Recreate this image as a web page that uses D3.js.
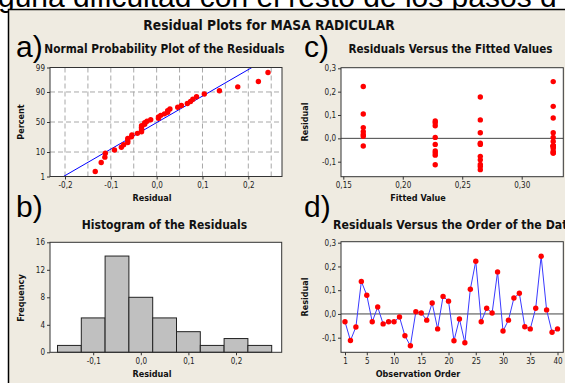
<!DOCTYPE html>
<html>
<head>
<meta charset="utf-8">
<script src="https://cdn.jsdelivr.net/npm/d3@7"></script>
<style>
body { margin: 0; background: #fff; overflow: hidden; }
svg { display: block; }
</style>
</head>
<body>
<svg id="chart" width="565" height="383"></svg>
<script>
const residuals = [-0.033, -0.112, -0.055, 0.137, 0.079, -0.033, 0.029, -0.042, -0.033, -0.033,
    -0.013, -0.092, -0.134, 0.009, 0.004, -0.026, 0.046, -0.063, 0.074, 0.054,
    -0.113, -0.021, -0.121, 0.104, 0.222, -0.033, 0.024, 0.004, 0.177, -0.072,
    -0.026, 0.067, 0.087, -0.054, -0.063, 0.024, 0.243, 0.017, -0.077, -0.063];
// fitted value for each observation (plot c)
const fitted = [0.3265, 0.2652, 0.3265, 0.3265, 0.2652, 0.1668, 0.1668, 0.3265, 0.3265, 0.3265,
    0.3265, 0.2652, 0.2652, 0.1668, 0.2273, 0.2273, 0.1668, 0.2273, 0.2273, 0.2273,
    0.2273, 0.2652, 0.2652, 0.1668, 0.1668, 0.3265, 0.2652, 0.3265, 0.2652, 0.2273,
    0.2652, 0.2273, 0.3265, 0.2273, 0.3265, 0.3265, 0.3265, 0.1668, 0.2652, 0.3265];
const order = d3.range(1, residuals.length + 1);

const probTicks = [1, 10, 50, 90, 99];
const residTicks = [-0.2, -0.1, 0.0, 0.1, 0.2];
const residGrid = [-0.2, -0.15, -0.1, -0.05, 0.0, 0.05, 0.1, 0.15, 0.2, 0.25];
const fittedTicks = [0.15, 0.20, 0.25, 0.30];
const residYTicks = [-0.1, 0.0, 0.1, 0.2, 0.3];
const histXTicks = [-0.1, 0.0, 0.1, 0.2];
const freqTicks = [0, 4, 8, 12, 16];
const histEdges = [-0.175, -0.125, -0.075, -0.025, 0.025, 0.075, 0.125, 0.175, 0.225, 0.275];
const orderTicks = [1, 5, 10, 15, 20, 25, 30, 35, 40];

const FONT = "'DejaVu Sans Condensed', 'DejaVu Sans', sans-serif";
const comma = d => d.toFixed(1).replace(".", ",");
const comma2 = d => d.toFixed(2).replace(".", ",");

// inverse normal cdf (Acklam)
function qnorm(p) {
    const a = [-39.69683028665376, 220.9460984245205, -275.9285104469687, 138.3577518672690, -30.66479806614716, 2.506628277459239];
    const b = [-54.47609879822406, 161.5858368580409, -155.6989798598866, 66.80131188771972, -13.28068155288572];
    const c = [-0.007784894002430293, -0.3223964580411365, -2.400758277161838, -2.549732539343734, 4.374664141464968, 2.938163982698783];
    const d = [0.007784695709041462, 0.3224671290700398, 2.445134137142996, 3.754408661907416];
    const tail = q => (((((c[0]*q+c[1])*q+c[2])*q+c[3])*q+c[4])*q+c[5]) / ((((d[0]*q+d[1])*q+d[2])*q+d[3])*q+1);
    if (p < 0.02425) return tail(Math.sqrt(-2 * Math.log(p)));
    if (p > 1 - 0.02425) return -tail(Math.sqrt(-2 * Math.log(1 - p)));
    const q = p - 0.5, r = q * q;
    return (((((a[0]*r+a[1])*r+a[2])*r+a[3])*r+a[4])*r+a[5])*q / (((((b[0]*r+b[1])*r+b[2])*r+b[3])*r+b[4])*r+1);
}

const svg = d3.select("#chart");

// bit of the document text above the graph
svg.append("text")
    .attr("x", -2)
    .attr("y", 7)
    .style("font", "30px 'Liberation Sans', Arial, sans-serif")
    .text("guna dificultad con el resto de los pasos d");

svg.append("rect")
    .attr("x", 8.5).attr("y", 9.5)
    .attr("width", 600).attr("height", 400)
    .attr("fill", "#efebe1")
    .attr("stroke", "#000")
    .attr("stroke-width", 1.5);

svg.append("text")
    .attr("x", 269).attr("y", 30)
    .attr("text-anchor", "middle")
    .style("font-family", FONT).style("font-weight", "bold").style("font-size", "13.7px")
    .attr("fill", "#111")
    .text("Residual Plots for MASA RADICULAR");

[["a)", 16, 57], ["b)", 16, 217], ["c)", 304, 57], ["d)", 304, 217]].forEach(([t, x, y]) => {
    svg.append("text").attr("x", x).attr("y", y)
        .style("font", "30px 'Liberation Sans', Arial, sans-serif")
        .text(t);
});

function frame(box, id) {
    svg.append("clipPath").attr("id", id)
        .append("rect")
        .attr("x", box.x0).attr("y", box.y0)
        .attr("width", box.x1 - box.x0).attr("height", box.y1 - box.y0);
    svg.append("rect")
        .attr("x", box.x0).attr("y", box.y0)
        .attr("width", box.x1 - box.x0).attr("height", box.y1 - box.y0)
        .attr("fill", "#fff");
}
function border(box) {
    svg.append("rect")
        .attr("x", box.x0).attr("y", box.y0)
        .attr("width", box.x1 - box.x0).attr("height", box.y1 - box.y0)
        .attr("fill", "none").attr("stroke", "#333").attr("stroke-width", 1);
}
function axes(box, x, y, xTicks, xFmt, yTicks, yFmt) {
    const styleAxis = g => {
        g.select(".domain").remove();
        g.selectAll("line").attr("stroke", "#333");
        g.selectAll("text").attr("fill", "#222").style("font-family", FONT).style("font-size", "8px");
    };
    svg.append("g")
        .attr("transform", `translate(0,${box.y1})`)
        .call(d3.axisBottom(x).tickValues(xTicks).tickFormat(xFmt).tickSize(3).tickPadding(3))
        .call(styleAxis);
    svg.append("g")
        .attr("transform", `translate(${box.x0},0)`)
        .call(d3.axisLeft(y).tickValues(yTicks).tickFormat(yFmt).tickSize(3).tickPadding(2))
        .call(styleAxis);
}
function title(t, x, y, size, anchor) {
    svg.append("text").attr("x", x).attr("y", y)
        .attr("text-anchor", anchor || "middle")
        .style("font-family", FONT).style("font-weight", "bold").style("font-size", size + "px")
        .attr("fill", "#111")
        .text(t);
}
function xlabel(t, x, y) {
    svg.append("text").attr("x", x).attr("y", y)
        .attr("text-anchor", "middle")
        .style("font-family", FONT).style("font-weight", "bold").style("font-size", "9px")
        .attr("fill", "#111")
        .text(t);
}
function ylabel(t, x, y) {
    svg.append("text")
        .attr("transform", `translate(${x},${y}) rotate(-90)`)
        .attr("text-anchor", "middle")
        .attr("dy", "0.35em")
        .style("font-family", FONT).style("font-weight", "bold").style("font-size", "9px")
        .attr("fill", "#111")
        .text(t);
}

// ---- a) normal probability plot
const boxA = {x0: 50, x1: 282, y0: 67.5, y1: 176.5};
const xA = d3.scaleLinear().domain([-0.2, 0.2]).range([65, 248.3]);
const yA = d3.scaleLinear().domain([qnorm(0.01), qnorm(0.99)]).range([boxA.y1, boxA.y0]);
frame(boxA, "clipA");

svg.append("g").selectAll("line")
    .data(residGrid)
    .join("line")
    .attr("x1", d => xA(d)).attr("x2", d => xA(d))
    .attr("y1", boxA.y0).attr("y2", boxA.y1)
    .attr("stroke", "#a8a8a8").attr("stroke-dasharray", "5,3");
svg.append("g").selectAll("line")
    .data(probTicks)
    .join("line")
    .attr("x1", boxA.x0).attr("x2", boxA.x1)
    .attr("y1", d => yA(qnorm(d / 100))).attr("y2", d => yA(qnorm(d / 100)))
    .attr("stroke", "#a8a8a8").attr("stroke-dasharray", "5,3");

const mean = d3.mean(residuals), sd = d3.deviation(residuals);
const zEnds = [yA.domain()[0] - 0.2, yA.domain()[1] + 0.2];
svg.append("line")
    .attr("clip-path", "url(#clipA)")
    .attr("x1", xA(mean + zEnds[0] * sd)).attr("y1", yA(zEnds[0]))
    .attr("x2", xA(mean + zEnds[1] * sd)).attr("y2", yA(zEnds[1]))
    .attr("stroke", "#0000ff").attr("stroke-width", 1);

const sorted = residuals.slice().sort(d3.ascending);
const n = sorted.length;
svg.append("g").attr("fill", "#ff0000")
    .selectAll("circle")
    .data(sorted)
    .join("circle")
    .attr("cx", d => xA(d))
    .attr("cy", (d, i) => yA(qnorm((i + 1 - 0.3) / (n + 0.4))))
    .attr("r", 2.7);
border(boxA);
axes(boxA, xA, yA, residTicks, comma, probTicks.map(p => qnorm(p / 100)), (d, i) => probTicks[i]);
title("Normal Probability Plot of the Residuals", 164.5, 53, 11.8);
xlabel("Residual", 152, 200.5);
ylabel("Percent", 20.5, 122);

// ---- c) residuals vs fitted
const boxC = {x0: 341, x1: 563.3, y0: 67.7, y1: 176.7};
const xC = d3.scaleLinear().domain([0.15, 0.30]).range([343.3, 521.7]);
const yC = d3.scaleLinear().domain([-0.1, 0.3]).range([161.7, 68.3]);
frame(boxC, "clipC");
svg.append("line")
    .attr("x1", boxC.x0).attr("x2", boxC.x1)
    .attr("y1", yC(0)).attr("y2", yC(0))
    .attr("stroke", "#444");
svg.append("g").attr("fill", "#ff0000")
    .selectAll("circle")
    .data(residuals)
    .join("circle")
    .attr("cx", (d, i) => xC(fitted[i]))
    .attr("cy", d => yC(d))
    .attr("r", 2.7);
border(boxC);
axes(boxC, xC, yC, fittedTicks, comma2, residYTicks, comma);
title("Residuals Versus the Fitted Values", 450.5, 53, 11.6);
xlabel("Fitted Value", 418, 200.5);
ylabel("Residual", 305, 122);

// ---- b) histogram
const boxB = {x0: 50, x1: 281.7, y0: 242.3, y1: 352.3};
const xB = d3.scaleLinear().domain([-0.1, 0.2]).range([93.2, 236]);
const yB = d3.scaleLinear().domain([0, 16]).range([boxB.y1, boxB.y0]);
const bins = d3.bin()
    .domain([histEdges[0], histEdges[histEdges.length - 1]])
    .thresholds(histEdges.slice(1, -1))(residuals);
frame(boxB, "clipB");
svg.append("g")
    .selectAll("rect")
    .data(bins)
    .join("rect")
    .attr("x", d => xB(d.x0))
    .attr("width", d => xB(d.x1) - xB(d.x0))
    .attr("y", d => yB(d.length))
    .attr("height", d => yB(0) - yB(d.length))
    .attr("fill", "#c0c0c0")
    .attr("stroke", "#222").attr("stroke-width", 1);
border(boxB);
axes(boxB, xB, yB, histXTicks, comma, freqTicks, d => d);
title("Histogram of the Residuals", 164.5, 229, 12);
xlabel("Residual", 152, 376.5);
ylabel("Frequency", 20.5, 298);

// ---- d) residuals vs order
const boxD = {x0: 341, x1: 563.3, y0: 241.7, y1: 352.3};
const xD = d3.scaleLinear().domain([1, 40]).range([345, 557.5]);
const yD = d3.scaleLinear().domain([-0.1, 0.3]).range([337.7, 242.7]);
frame(boxD, "clipD");
svg.append("line")
    .attr("x1", boxD.x0).attr("x2", boxD.x1)
    .attr("y1", yD(0)).attr("y2", yD(0))
    .attr("stroke", "#444");
svg.append("path")
    .datum(residuals)
    .attr("d", d3.line().x((d, i) => xD(order[i])).y(d => yD(d)))
    .attr("fill", "none")
    .attr("stroke", "#3a3aff").attr("stroke-width", 1);
svg.append("g").attr("fill", "#ff0000")
    .selectAll("circle")
    .data(residuals)
    .join("circle")
    .attr("cx", (d, i) => xD(order[i]))
    .attr("cy", d => yD(d))
    .attr("r", 2.7);
border(boxD);
axes(boxD, xD, yD, orderTicks, d => d, residYTicks, comma);
title("Residuals Versus the Order of the Data", 333, 229.3, 12.2, "start");
xlabel("Observation Order", 418, 376.5);
ylabel("Residual", 305, 297);
</script>
</body>
</html>
